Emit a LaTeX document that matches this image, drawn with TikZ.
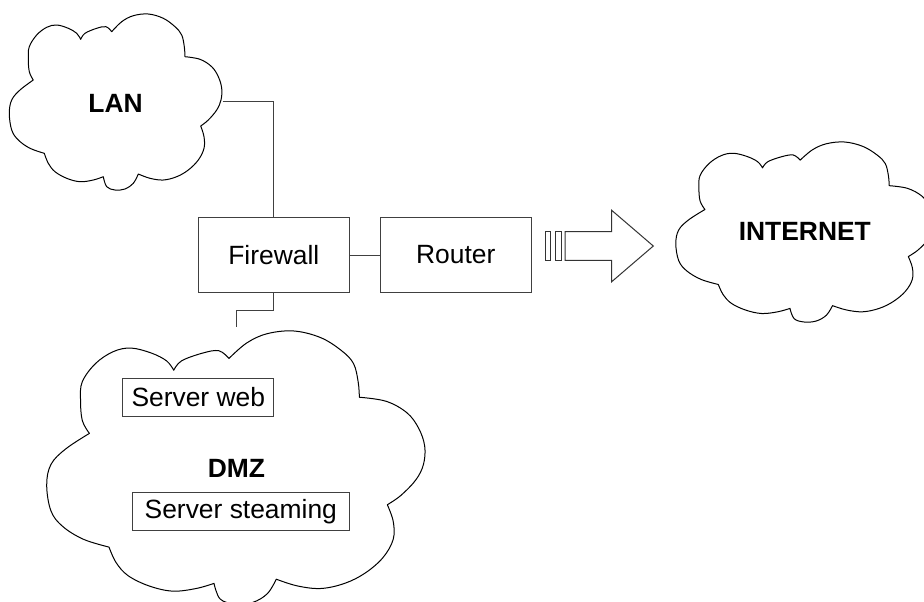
\documentclass[tikz,border=0pt]{standalone}
\usepackage{fontspec}
\setmainfont{Liberation Sans}
\newcommand\cloudoutline{%
 plot[smooth,tension=0.6] coordinates{(24,66) (20,57.7) (19,44.3) (20,32.7) (27.4,21) (37.4,13.3) (47.4,11) (59,14.3) (67.4,19.3) (71.4,25.3)}
 -- plot[smooth,tension=0.6] coordinates{(71.4,25.3) (75.7,19.3) (87.4,14.3) (96.7,12.7) (102.4,17.7)}
 -- plot[smooth,tension=0.6] coordinates{(102.4,17.7) (112.4,7.7) (124,1.7) (139,0) (154,4.3) (165.7,12.7) (172.4,21) (175,32.7) (175.7,42.7)}
 -- plot[smooth,tension=0.6] coordinates{(175.7,42.7) (190.7,45.3) (202.4,52.7) (209,62.7) (212.4,74.3) (211.7,86) (207.4,96) (199,106) (191.4,112)}
 -- plot[smooth,tension=0.6] coordinates{(191.4,112) (194.7,122.7) (194.7,134.3) (189,146) (179,156) (167.4,162.7) (154,166) (140.7,164.3) (129,160)}
 -- plot[smooth,tension=0.6] coordinates{(129,160) (124,169.3) (115.7,175) (105.7,176) (97.4,172.7) (94,162.7)}
 -- plot[smooth,tension=0.6] coordinates{(94,162.7) (84,166) (70.7,167.7) (57.4,164.3) (45.7,157.7) (39,149.3) (35,139.3)}
 -- plot[smooth,tension=0.6] coordinates{(35,139.3) (20.7,134.3) (9,126) (2.4,116) (0,99.3) (2.4,86) (10.7,76) (24,66)}
 -- cycle}
\tikzset{
  box/.style={draw=black!75, line width=0.75pt, font=\fontsize{19.8}{23}\selectfont, inner sep=0pt},
  cloudlabel/.style={font=\fontsize{19.8}{23}\selectfont\bfseries, inner sep=0pt},
  cloudline/.style={draw=black, line width=0.75pt, line join=round},
  wire/.style={draw=black!75, line width=0.75pt},
  bigarrow/.style={draw=black!80, line width=0.75pt, line join=miter},
}
\begin{document}
\begin{tikzpicture}[x=0.75pt,y=-0.75pt]
\useasboundingbox (0,0) rectangle (924,601);
\clip (0,0) rectangle (924,601);
\fill[white] (0,0) rectangle (924,601);

% clouds
\begin{scope}[shift={(9.3,14)}]
  \draw[cloudline] \cloudoutline;
\end{scope}
\begin{scope}[shift={(675.8,142)}, xscale=1.2147, yscale=1.0227]
  \draw[cloudline] \cloudoutline;
\end{scope}
\begin{scope}[shift={(46.7,331)}, xscale=1.7797, yscale=1.5511]
  \draw[cloudline] \cloudoutline;
\end{scope}

% cloud labels
\node[cloudlabel] (lan) at (115.5,103) {LAN};
\node[cloudlabel] (internet) at (804.8,231.5) {INTERNET};
\node[cloudlabel] (dmz) at (236.5,468) {DMZ};

% boxes
\node[box, minimum width=113.25pt, minimum height=56.5pt] (fw) at (273.8,255) {Firewall};
\node[box, minimum width=113.5pt, minimum height=56.5pt] (router) at (455.7,255) {Router};
\node[box, minimum width=113.5pt, minimum height=28.8pt] (web) at (198.3,397.5) {Server web};
\node[box, minimum width=162.75pt, minimum height=28.3pt] (stream) at (240.8,511.2) {Server steaming};

% connector end points
\coordinate (lanE) at (222.7,101.7);
\coordinate (dmzN) at (236.7,327.3);

% connectors
\draw[wire] (lanE) -| (fw.north);
\draw[wire] (fw.east) -- (router.west);
\draw[wire] (fw.south) -- ++(0,17) -| (dmzN);

% striped arrow
\coordinate (arr) at (545.7,246);
\draw[bigarrow] (545.7,231.7) rectangle (550.7,260.3);
\draw[bigarrow] (555,231.7) rectangle (561,260.3);
\draw[bigarrow] (565,231.7) -- (611.7,231.7) -- (611.7,210.3) -- (653.3,246)
  -- (611.7,281.7) -- (611.7,260.3) -- (565,260.3) -- cycle;
\end{tikzpicture}
\end{document}
